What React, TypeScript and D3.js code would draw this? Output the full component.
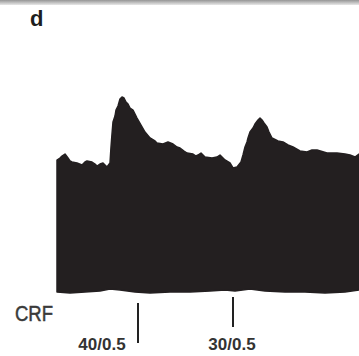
import * as d3 from 'd3';

const WIDTH = 359, HEIGHT = 356;

// trace envelope, upper edge (time in s, amplitude in a.u.)
const topTime = [0, 3, 5, 8, 11, 13, 15, 20, 25, 28, 30, 35, 38, 40, 43, 46, 48, 50, 53, 54, 55, 56, 58, 59, 61, 63, 65, 67, 69, 71, 73, 76, 78, 80, 84, 88, 93, 98, 100, 106, 111, 116, 120, 123, 127, 130, 136, 139, 141, 144, 148, 155, 160, 163, 168, 173, 176, 180, 184, 186, 188, 190, 191, 193, 196, 198, 201, 203, 205, 207, 210, 212, 215, 221, 226, 231, 236, 243, 250, 255, 260, 270, 280, 288, 293, 298, 302];
const topValue = [132, 134, 136, 138, 134, 131, 130, 129, 127, 130, 131, 130, 128, 126, 128, 129, 127, 125, 129, 145, 158, 170, 176, 182, 186, 193, 195, 194, 190, 188, 184, 182, 178, 174, 167, 160, 154, 151, 149, 148, 150, 148, 145, 144, 141, 139, 138, 136, 137, 139, 135, 134, 135, 137, 132, 129, 124, 125, 130, 137, 145, 150, 154, 160, 164, 168, 172, 174, 172, 169, 165, 160, 154, 151, 150, 147, 145, 141, 140, 142, 142, 139, 139, 138, 137, 135, 138];

// lower edge
const bottomTime = [0, 13, 28, 43, 53, 63, 78, 93, 113, 133, 153, 168, 178, 193, 208, 228, 248, 268, 288, 302];
const bottomValue = [0, -1, 0, 1, 3, 2, 0, -1, 0, 0, 1, 2, 1, 3, 1, 0, 0, -1, 0, 2];

// CRF injections: time, dose label, marker length
const stimTime = [81, 176];
const stimLabel = ['40/0.5', '30/0.5'];
const stimDose = [40, 30];
const stimTop = [303, 297];
const labelShift = [-36, -1];

const x = d3.scaleLinear().domain([0, 302]).range([57, 359]);
const y = d3.scaleLinear().domain([0, 200]).range([292, 92]);
const tickLen = d3.scaleLinear().domain([0, 40]).range([0, 40]);

const topPts: [number, number][] = topTime.map((t, i) => [x(t), y(topValue[i])]);
const botPts: [number, number][] = bottomTime.map((t, i) => [x(t), y(bottomValue[i])]);
const outline = d3.line().curve(d3.curveLinear)([...topPts, ...botPts.reverse()]) + 'Z';

const App = () => {
  return (
    <svg width={WIDTH} height={HEIGHT} style={{ position: 'fixed', left: 0, top: 0, background: '#fff' }}>
      <defs>
        <linearGradient id="edge" x1="0" y1="0" x2="0" y2="1">
          <stop offset="0" stopColor="#959595" />
          <stop offset="1" stopColor="#e8e8e8" />
        </linearGradient>
      </defs>
      <rect x={0} y={0} width={WIDTH} height={5} fill="url(#edge)" />
      <text x={30} y={26} fontFamily="Liberation Sans, Arial, sans-serif" fontWeight="bold" fontSize={22} fill="#1e1e1e">d</text>

      <path d={outline} fill="#231f20" stroke="#231f20" strokeWidth={1.5} strokeLinejoin="round" />

      <text x={15} y={321} fontFamily="Liberation Sans, Arial, sans-serif" fontSize={22} fill="#3a3a3a" stroke="#3a3a3a" strokeWidth={0.5} textLength={38} lengthAdjust="spacingAndGlyphs">CRF</text>

      {stimTime.map((t, i) => (
        <g key={i}>
          <line x1={x(t)} x2={x(t)} y1={stimTop[i]} y2={stimTop[i] + tickLen(stimDose[i])} stroke="#222" strokeWidth={2} />
          <text x={x(t) + labelShift[i]} y={350} textAnchor="middle" fontFamily="Liberation Sans, Arial, sans-serif" fontWeight="bold" fontSize={17} fill="#333">{stimLabel[i]}</text>
        </g>
      ))}
    </svg>
  );
};

export default App;
